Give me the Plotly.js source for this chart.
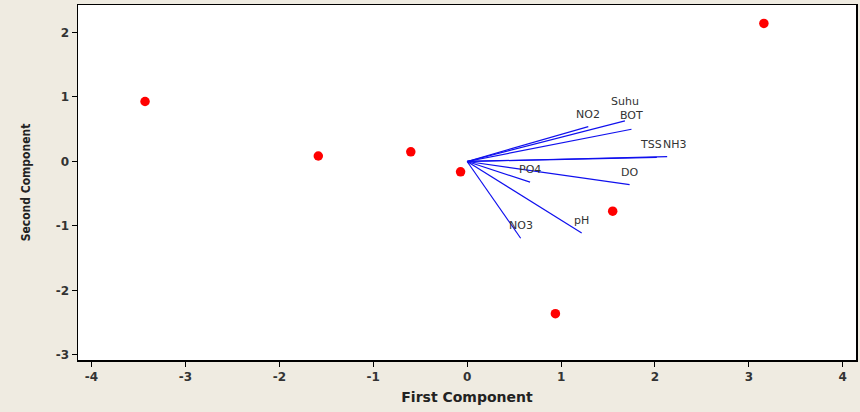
<!DOCTYPE html>
<html>
<head>
<meta charset="utf-8">
<script src="https://cdn.plot.ly/plotly-3.0.1.min.js"></script>
<style>html,body{margin:0;padding:0;background:#EFEBE1;}#chart{width:860px;height:412px;}</style>
</head>
<body>
<div id="chart"></div>
<script>
// Scores (observations)
const scoreX = [-3.43, -1.585, -0.60, -0.07, 1.55, 0.94, 3.16];
const scoreY = [0.93, 0.085, 0.15, -0.16, -0.77, -2.36, 2.14];

// Loadings (variables)
const varNames = ["Suhu", "BOT", "NO2", "TSS", "NH3", "PO4", "DO", "NO3", "pH"];
const loadX = [1.68, 1.75, 1.29, 2.02, 2.13, 0.67, 1.73, 0.57, 1.22];
const loadY = [0.63, 0.50, 0.54, 0.065, 0.075, -0.32, -0.36, -1.19, -1.11];

const xTicks = [-4, -3, -2, -1, 0, 1, 2, 3, 4];
const yTicks = [-3, -2, -1, 0, 1, 2];

// small label nudges (pixels) to keep near-coincident labels readable
const labelDX = {Suhu: 0, BOT: 0, TSS: -6, NH3: 8};
const labelDY = {Suhu: 7, BOT: 1};

const traces = [];
varNames.forEach((n, i) => {
  traces.push({
    x: [0, loadX[i]], y: [0, loadY[i]],
    mode: 'lines', type: 'scatter',
    line: {color: '#1010EE', width: 1.2},
    hoverinfo: 'skip', showlegend: false
  });
});
traces.push({
  x: scoreX, y: scoreY, mode: 'markers', type: 'scatter',
  marker: {color: '#FF0000', size: 9.5, symbol: 'circle'},
  showlegend: false
});

const annotations = varNames.map((n, i) => ({
  x: loadX[i], y: loadY[i], text: n, showarrow: false,
  xanchor: 'center', yanchor: 'bottom',
  yshift: 4 + (labelDY[n] || 0), xshift: labelDX[n] || 0,
  font: {family: 'DejaVu Sans', size: 11, color: '#333333'}
}));

const axisCommon = {
  showgrid: false, zeroline: false, showline: true, mirror: true,
  linecolor: '#000000', linewidth: 1.5,
  ticks: 'outside', ticklen: 5, tickcolor: '#000000', tickwidth: 1,
  tickfont: {family: 'DejaVu Sans', size: 12, color: '#333333', weight: 'bold'}
};

const layout = {
  width: 860, height: 412,
  margin: {l: 78, r: 4, t: 5, b: 52},
  paper_bgcolor: '#EFEBE1', plot_bgcolor: '#FFFFFF',
  xaxis: Object.assign({}, axisCommon, {
    range: [-4.144, 4.141], tickvals: xTicks, ticktext: xTicks.map(String),
    title: {text: '<b>First Component</b>', standoff: 9,
      font: {family: 'DejaVu Sans', size: 14, color: '#222222'}}
  }),
  yaxis: Object.assign({}, axisCommon, {
    range: [-3.078, 2.426], tickvals: yTicks, ticktext: yTicks.map(String),
    title: {text: '<b>Second Component</b>', standoff: 22,
      font: {family: 'DejaVu Sans Condensed', size: 12, color: '#222222'}}
  }),
  annotations: annotations,
  showlegend: false
};

Plotly.newPlot('chart', traces, layout, {displayModeBar: false, staticPlot: true});
</script>
</body>
</html>
